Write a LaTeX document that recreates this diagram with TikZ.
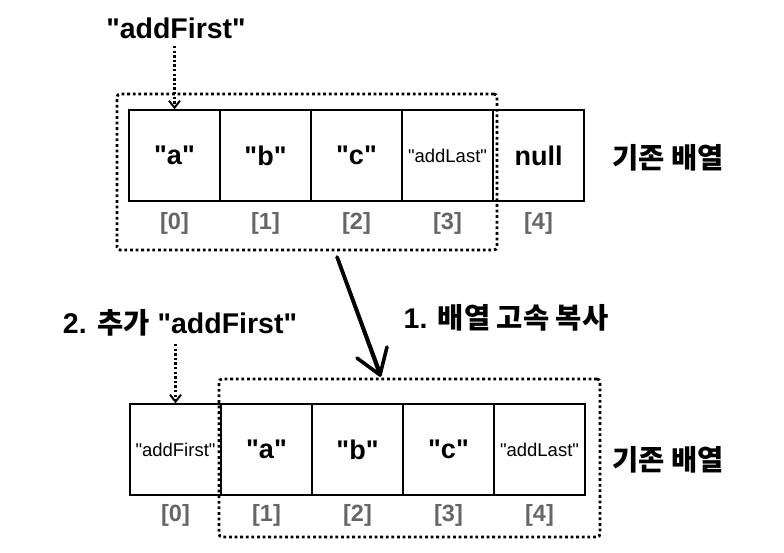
\documentclass[tikz,border=0pt]{standalone}
\usepackage{fontspec}
\setmainfont{Liberation Sans}
\newfontfamily\kr{Noto Sans CJK KR}
\usetikzlibrary{fit,arrows.meta}
\definecolor{idxgray}{HTML}{666666}
\newcommand\qq{\textquotedbl}
\begin{document}
\begin{tikzpicture}[x=1pt,y=-1pt,
  cell/.style={draw,line width=1.4pt,minimum width=91pt,minimum height=91pt,inner sep=0pt,font=\fontsize{27}{27}\selectfont\bfseries},
  smallcell/.style={cell,font=\fontsize{18.5}{18.5}\selectfont},
  idx/.style={text=idxgray,font=\fontsize{23.5}{23.5}\selectfont\bfseries},
  lbl/.style={font=\fontsize{28.5}{28.5}\selectfont\bfseries},
  dotbox/.style={draw,line width=2.8pt,dash pattern=on 2.8pt off 2.8pt,rounded corners=3pt},
  dotarrow/.style={line width=2.4pt,dash pattern=on 2.4pt off 2.2pt,-{Straight Barb[length=7pt,width=11pt,line width=2pt]}},
  sketch/.style={line width=3.6pt,line cap=round,line join=round}]
\useasboundingbox (0,0) rectangle (784,553);
% top array
\node[cell] (t0) at (174.5,155.5) {\qq a\qq};
\node[cell] (t1) at (265.5,155.5) {\qq b\qq};
\node[cell] (t2) at (356.5,155.5) {\qq c\qq};
\node[smallcell] (t3) at (447.5,155.5) {\qq addLast\qq};
\node[cell] (t4) at (538.5,155.5) {null};
\foreach \i/\x in {0/174.5,1/265.5,2/356.5,3/447.5,4/538.5}{
  \node[idx] (ti\i) at (\x,223) {[\i]};}
\node[lbl,anchor=west] (tlab) at (609,158) {\kr\bfseries 기존 배열};
\node[lbl] (tadd) at (176,28) {\qq addFirst\qq};
\coordinate (ta1) at (174.5,46);
\draw[dotarrow] (ta1) -- (t0.north);
\node[dotbox,fit={(117,94) (497,250)},inner sep=0pt] (tbox) {};
% bottom array
\node[smallcell] (b0) at (175.5,449.5) {\qq addFirst\qq};
\node[cell] (b1) at (266.5,449.5) {\qq a\qq};
\node[cell] (b2) at (357.5,449.5) {\qq b\qq};
\node[cell] (b3) at (448.5,449.5) {\qq c\qq};
\node[smallcell] (b4) at (539.5,449.5) {\qq addLast\qq};
\foreach \i/\x in {0/175.5,1/266.5,2/357.5,3/448.5,4/539.5}{
  \node[idx] (bi\i) at (\x,515) {[\i]};}
\node[lbl,anchor=west] (blab) at (609,460) {\kr\bfseries 기존 배열};
\node[lbl] (badd) at (180,323) {2. {\kr\bfseries 추가} \qq addFirst\qq};
\coordinate (ba1) at (175.5,344);
\draw[dotarrow] (ba1) -- (b0.north);
\node[dotbox,fit={(219,379) (600,537)},inner sep=0pt] (bbox) {};
\node[lbl] (copy) at (506,318) {1. {\kr\bfseries 배열 고속 복사}};
% big hand-drawn arrow
\coordinate (as) at (337,257);
\coordinate (ae) at (380,375);
\draw[sketch] (as) -- (ae);
\draw[line width=1.2pt,line cap=round] (339,259) -- (381,372);
\draw[sketch] (357,358) -- (ae) -- (387,347);
\end{tikzpicture}
\end{document}
